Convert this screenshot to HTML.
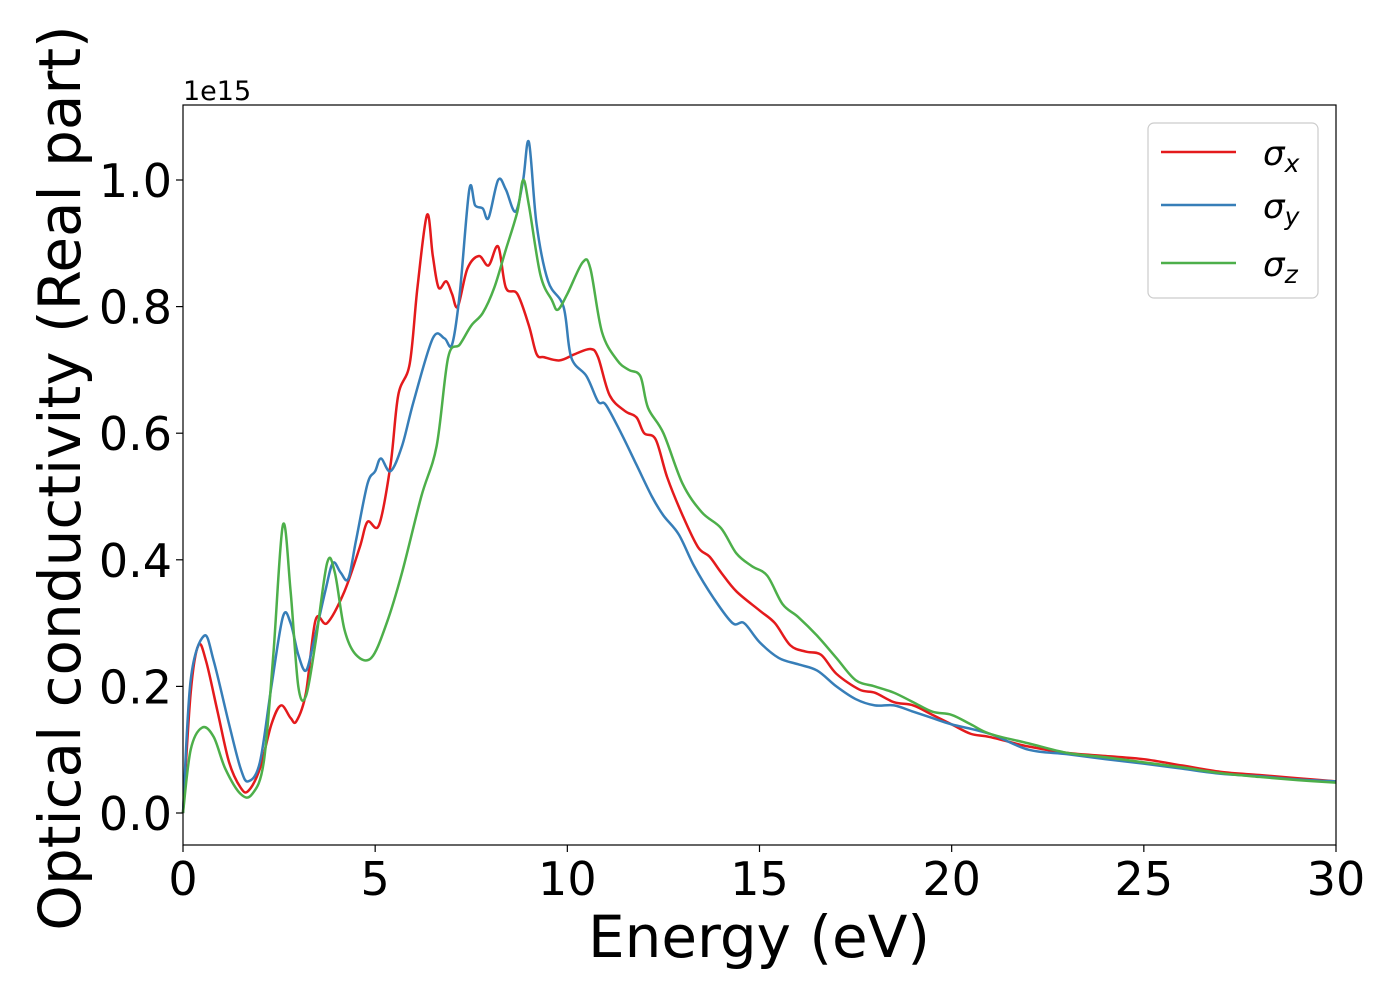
<!DOCTYPE html>
<html><head><meta charset="utf-8"><style>
body{margin:0;background:#fff;}
svg{display:block;font-family:"DejaVu Sans","Liberation Sans",sans-serif;}
</style></head><body>
<svg id="chart" width="1400" height="1000" viewBox="0 0 1400 1000">
<rect x="0" y="0" width="1400" height="1000" fill="#fff"/>
<g id="series"></g>
<rect x="183" y="105" width="1153" height="740" fill="none" stroke="#000" stroke-width="1.2"/>
<g id="xticks"></g>
<g id="yticks"></g>
<text x="183" y="100" font-size="27">1e15</text>
<text x="759" y="957" font-size="58" text-anchor="middle">Energy (eV)</text>
<text transform="translate(80,478) rotate(-90)" font-size="58" text-anchor="middle">Optical conductivity (Real part)</text>
<g>
<rect x="1148" y="123" width="170" height="175" rx="6" fill="#fff" fill-opacity="0.8" stroke="#ccc" stroke-width="1.2"/>
<line x1="1161" y1="152" x2="1236" y2="152" stroke="#e41a1c" stroke-width="2.5"/>
<line x1="1161" y1="205" x2="1236" y2="205" stroke="#377eb8" stroke-width="2.5"/>
<line x1="1161" y1="263" x2="1236" y2="263" stroke="#4daf4a" stroke-width="2.5"/>
<text x="1263" y="165" font-size="34" font-style="italic">σ<tspan font-size="25" dy="7">x</tspan></text>
<text x="1263" y="218" font-size="34" font-style="italic">σ<tspan font-size="25" dy="7">y</tspan></text>
<text x="1263" y="276" font-size="34" font-style="italic">σ<tspan font-size="25" dy="7">z</tspan></text>
</g>
</svg>
<script>
const xTicks=[0,5,10,15,20,25,30];
const yTicks=[0.0,0.2,0.4,0.6,0.8,1.0];
const yTickLabels=["0.0","0.2","0.4","0.6","0.8","1.0"];
const redE=[0,0.2,0.4,0.6,0.9,1.2,1.5,1.7,2.0,2.3,2.55,2.8,2.95,3.2,3.45,3.75,4.2,4.6,4.8,5.1,5.4,5.6,5.9,6.1,6.35,6.5,6.65,6.85,7.0,7.15,7.4,7.7,7.95,8.2,8.4,8.7,9.0,9.2,9.4,9.8,10.2,10.6,10.8,11.1,11.5,11.8,12.0,12.3,12.6,13,13.4,13.7,14,14.4,15,15.4,15.8,16.2,16.6,17,17.6,18,18.5,19,19.5,20,20.5,21,22,23,24,25,26,27,28,29,30];
const redV=[0,0.19,0.265,0.24,0.16,0.08,0.04,0.035,0.07,0.14,0.17,0.15,0.145,0.19,0.305,0.30,0.35,0.42,0.46,0.455,0.55,0.66,0.71,0.83,0.945,0.88,0.83,0.84,0.82,0.80,0.86,0.88,0.865,0.895,0.83,0.82,0.77,0.725,0.72,0.715,0.725,0.733,0.72,0.66,0.635,0.625,0.60,0.59,0.53,0.47,0.42,0.405,0.38,0.35,0.32,0.30,0.265,0.255,0.25,0.22,0.195,0.19,0.175,0.17,0.155,0.14,0.125,0.12,0.105,0.095,0.09,0.085,0.075,0.065,0.06,0.055,0.05];
const blueE=[0,0.2,0.55,0.8,1.2,1.5,1.7,2.0,2.3,2.6,2.8,3.0,3.2,3.4,3.7,3.9,4.1,4.3,4.5,4.8,5.0,5.15,5.4,5.7,6.0,6.5,6.8,7.0,7.2,7.45,7.6,7.8,7.95,8.2,8.4,8.65,8.85,9.0,9.2,9.5,9.9,10.1,10.5,10.8,11.0,11.4,11.8,12.2,12.5,12.9,13.3,13.8,14.3,14.6,15,15.5,16,16.5,17,17.5,18,18.5,19,19.5,20,21,22,23,24,25,26,27,28,29,30];
const blueV=[0,0.21,0.28,0.24,0.14,0.07,0.05,0.08,0.2,0.31,0.30,0.25,0.225,0.27,0.35,0.395,0.38,0.37,0.43,0.52,0.54,0.56,0.54,0.58,0.65,0.75,0.75,0.74,0.82,0.985,0.96,0.955,0.94,1.0,0.985,0.95,1.0,1.06,0.93,0.84,0.80,0.72,0.69,0.65,0.645,0.60,0.55,0.50,0.47,0.44,0.39,0.34,0.30,0.30,0.27,0.245,0.235,0.225,0.20,0.18,0.17,0.17,0.16,0.15,0.14,0.125,0.10,0.093,0.085,0.078,0.07,0.062,0.058,0.053,0.05];
const greenE=[0,0.2,0.5,0.8,1.1,1.5,1.8,2.1,2.35,2.6,2.8,3.0,3.2,3.45,3.75,3.95,4.2,4.5,4.9,5.3,5.7,6.2,6.6,6.9,7.2,7.5,7.8,8.1,8.4,8.7,8.85,9.0,9.3,9.6,9.75,10.0,10.4,10.6,10.9,11.3,11.6,11.9,12.1,12.5,13,13.5,14,14.4,14.8,15.2,15.6,16,16.5,17,17.5,18,18.5,19,19.5,20,20.5,21,22,23,24,25,26,27,28,29,30];
const greenV=[0,0.10,0.135,0.12,0.07,0.03,0.03,0.08,0.25,0.455,0.35,0.20,0.185,0.27,0.395,0.38,0.29,0.25,0.245,0.30,0.38,0.50,0.58,0.72,0.74,0.77,0.79,0.83,0.89,0.95,1.0,0.96,0.85,0.81,0.795,0.82,0.87,0.86,0.76,0.715,0.70,0.69,0.64,0.60,0.52,0.475,0.45,0.41,0.39,0.375,0.33,0.31,0.28,0.245,0.21,0.20,0.19,0.175,0.16,0.155,0.14,0.125,0.11,0.095,0.088,0.08,0.072,0.063,0.057,0.052,0.048];

const X0=183,X1=1336,Y0=813,Y1=180;
const sx=e=>X0+(e/30)*(X1-X0);
const sy=v=>Y0+v*(Y1-Y0);
const NS="http://www.w3.org/2000/svg";
function smooth(E,V){
  const p=E.map((e,i)=>[sx(e),sy(V[i])]);
  let d="M"+p[0][0]+","+p[0][1];
  for(let i=0;i<p.length-1;i++){
    const a=p[Math.max(0,i-1)],b=p[i],c=p[i+1],f=p[Math.min(p.length-1,i+2)];
    const c1=[b[0]+(c[0]-a[0])/6,b[1]+(c[1]-a[1])/6];
    const c2=[c[0]-(f[0]-b[0])/6,c[1]-(f[1]-b[1])/6];
    d+=` C${c1[0]},${c1[1]} ${c2[0]},${c2[1]} ${c[0]},${c[1]}`;
  }
  return d;
}
const g=document.getElementById("series");
[[redE,redV,"#e41a1c","series-sigma-x"],[blueE,blueV,"#377eb8","series-sigma-y"],[greenE,greenV,"#4daf4a","series-sigma-z"]].forEach(s=>{
  const path=document.createElementNS(NS,"path");
  path.setAttribute("d",smooth(s[0],s[1]));
  path.setAttribute("fill","none");
  path.setAttribute("stroke",s[2]);
  path.setAttribute("stroke-width","2.5");
  
  
  g.appendChild(path);
});
const xg=document.getElementById("xticks");
xTicks.forEach(t=>{
  const l=document.createElementNS(NS,"line");
  l.setAttribute("x1",sx(t));l.setAttribute("x2",sx(t));l.setAttribute("y1",845);l.setAttribute("y2",852);
  l.setAttribute("stroke","#000");l.setAttribute("stroke-width","1.2");
  
  
  xg.appendChild(l);
  const tx=document.createElementNS(NS,"text");
  tx.setAttribute("x",sx(t));tx.setAttribute("y",895);tx.setAttribute("font-size","46");tx.setAttribute("text-anchor","middle");
  tx.textContent=String(t);
  
  
  xg.appendChild(tx);
});
const yg=document.getElementById("yticks");
yTicks.forEach((t,i)=>{
  const l=document.createElementNS(NS,"line");
  l.setAttribute("x1",176);l.setAttribute("x2",183);l.setAttribute("y1",sy(t));l.setAttribute("y2",sy(t));
  l.setAttribute("stroke","#000");l.setAttribute("stroke-width","1.2");
  
  
  yg.appendChild(l);
  const tx=document.createElementNS(NS,"text");
  tx.setAttribute("x",172);tx.setAttribute("y",sy(t)+17);tx.setAttribute("font-size","46");tx.setAttribute("text-anchor","end");
  tx.textContent=yTickLabels[i];
  
  
  yg.appendChild(tx);
});
</script>
</body></html>
